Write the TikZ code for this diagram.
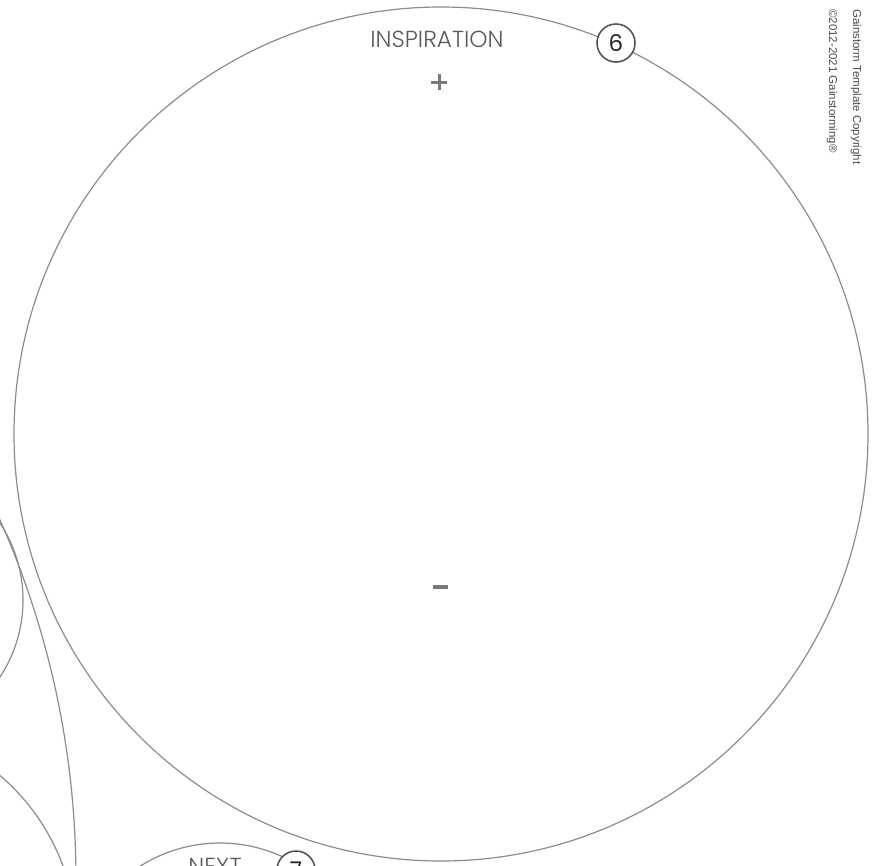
\documentclass[tikz,border=0pt]{standalone}
\usepackage{fontspec}
\setmainfont{Poppins}
\IfFontExistsTF{Poppins Light}{\newfontfamily\lightfont{Poppins Light}}{\newfontfamily\lightfont{Poppins}}
\newfontfamily\copyfont{Liberation Sans}
\usetikzlibrary{calc}
\begin{document}
\begin{tikzpicture}[x=1pt,y=-1pt,
  ring/.style={draw=linegray, line width=1.2pt},
  badge/.style={circle, draw=badgegray, line width=1.6pt, fill=white, minimum size=38pt, inner sep=0pt, font=\fontsize{23}{23}\selectfont, text=black!85},
  title/.style={font=\lightfont\fontsize{23.2}{23.2}\selectfont, text=titlegray, inner sep=0pt},
  copy/.style={font=\copyfont\fontsize{11.5}{11.5}\selectfont, text=black!70, inner sep=0pt, rotate=-90, anchor=west}]
\definecolor{linegray}{HTML}{8C8C8C}
\definecolor{badgegray}{HTML}{555555}
\definecolor{titlegray}{HTML}{5A5A5A}
\definecolor{signgray}{HTML}{7A7A7A}
\useasboundingbox (0,0) rectangle (877,865);
\clip (0,0) rectangle (877,865);
% partial circles at left and bottom
\draw[ring] (-117,600) circle[radius=140pt];
\draw[ring] (-812,880) circle[radius=888pt];
\draw[ring] (-140,940) circle[radius=216pt];
\draw[ring] (220,992) circle[radius=149pt];
% main circle
\draw[ring] (441,434) circle[radius=427pt];
% labels
\node[title] (insp) at (437,39.5) {INSPIRATION};
\node[badge] (six) at (616,43) {6};
\node[title] (next) at (215,866) {NEXT};
\node[badge] (seven) at (296,870) {7};
% plus and minus
\coordinate (plusc) at (439,82);
\draw[signgray, line width=3pt] ($(plusc)+(-8,0)$) -- ($(plusc)+(8,0)$);
\draw[signgray, line width=3pt] ($(plusc)+(0,-8)$) -- ($(plusc)+(0,8)$);
\coordinate (minusc) at (440,587);
\draw[signgray, line width=4pt] ($(minusc)+(-7.5,0)$) -- ($(minusc)+(7.5,0)$);
% copyright
\node[copy] (cp1) at (856,9) {Gainstorm Template Copyright};
\node[copy] (cp2) at (832,9) {©2012-2021 Gainstorming®};
\end{tikzpicture}
\end{document}
